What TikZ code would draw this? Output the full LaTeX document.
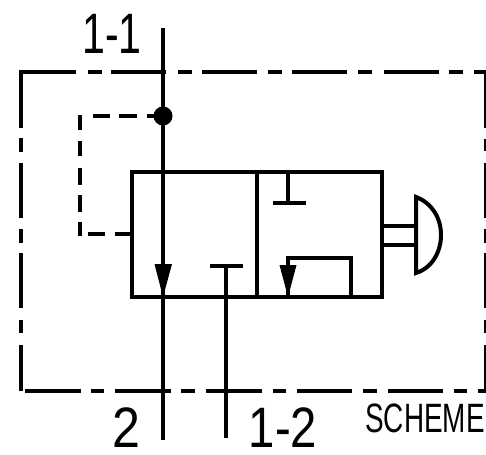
\documentclass[tikz,border=0pt]{standalone}
\usepackage{fontspec}
\setmainfont{Liberation Sans}
\begin{document}
\begin{tikzpicture}[x=1pt,y=-1pt,
  ln/.style={line width=4pt,line cap=butt,line join=miter},
  bord/.style={line width=4pt,line cap=butt,line join=miter},
  lab/.style={inner sep=0pt,outer sep=0pt,anchor=base,font=\fontsize{57}{57}\selectfont},
  tip/.style={fill=black,draw=none}]
\useasboundingbox (0,0) rectangle (486,454);
% outer dash-dot frame
\foreach \a/\b in {19/76,88/102,111/166,178/192,202/257,268/282,292/347,358/372,384/439,449/463,474/486}
  \draw[bord] (\a,72.5) -- (\b,72.5);
\foreach \a/\b in {25/81,91/104,115/171,181/195,206/262,273/286,297/352,363/377,388/443,454/467,478/486}
  \draw[bord] (\a,391) -- (\b,391);
\foreach \a/\b in {71/128,138/152,163/218,229/243,253/308,320/333,345/391}
  \draw[bord] (20.5,\a) -- (20.5,\b);
\foreach \a/\b in {71/128,139/151,163/218,229/243,253/308,320/333,345/392}
  \draw[bord] (486,\a) -- (486,\b);
% pilot dashed
\coordinate (J) at (163,116);
\coordinate (V) at (132,234);
\draw[ln] (J) -- (147,116);
\draw[ln] (137,116) -- (119,116);
\draw[ln] (110,116) -- (93,116);
\foreach \a/\b in {115/130,141/156,168/185,195/212,222/236}
  \draw[ln] (80,\a) -- (80,\b);
\draw[ln] (88,234) -- (105,234);
\draw[ln] (115,234) -- (V);
% valve body
\draw[ln] (132,172) rectangle (382,297);
\draw[ln] (257,172) -- (257,297);
% main lines
\draw[ln] (163,28) -- (163,440);
\draw[ln] (226,266) -- (226,438);
\draw[ln] (210,266) -- (243,266);
\fill (J) circle (9.5);
\fill[tip] (154.5,264) -- (172,264) -- (163,297) -- cycle;
% blocked port
\draw[ln] (288,172) -- (288,203);
\draw[ln] (273,203) -- (306,203);
% right box passage
\draw[ln] (351,297) -- (351,258) -- (288,258) -- (288,297);
\fill[tip] (279.5,265) -- (296.5,265) -- (288,297) -- cycle;
% button
\draw[ln] (382,226) -- (416,226);
\draw[ln] (382,245) -- (416,245);
\draw[ln] (416,197) -- (416,273) .. controls (432,268) and (441,252) .. (441,235) .. controls (441,218) and (432,203) .. (416,197) -- cycle;
% labels
\node[lab] (t11) at (112,54) {\scalebox{0.72}[1]{1-1}};
\node[lab] (t2) at (126.5,447) {\scalebox{0.88}[1]{2}};
\node[lab] (t12) at (283,447) {\scalebox{0.83}[1]{1-2}};
\node[lab,font=\fontsize{41}{41}\selectfont] (ts) at (425,432) {\scalebox{0.68}[1]{SCHEME}};
\end{tikzpicture}
\end{document}
